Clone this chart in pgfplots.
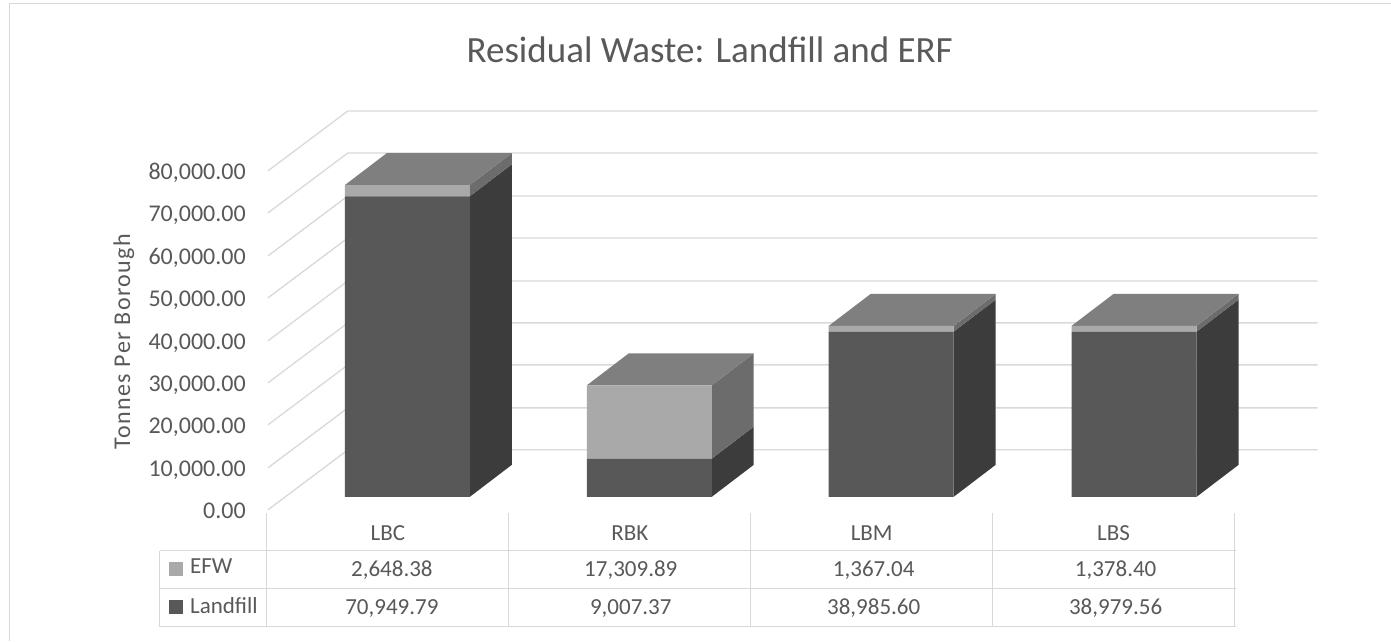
\documentclass[border=0pt]{standalone}
\usepackage{fontspec}
\setmainfont{Carlito}
\newfontfamily\spaced[LetterSpace=6]{Carlito}
\usepackage{pgfplots}
\usepackage{pgfplotstable}
\pgfplotsset{compat=1.18}

\definecolor{txt}{HTML}{595959}
\definecolor{gridc}{HTML}{D9D9D9}
\definecolor{landf}{HTML}{585858}
\definecolor{landside}{HTML}{3C3C3C}
\definecolor{efwf}{HTML}{A9A9A9}
\definecolor{efwside}{HTML}{6C6C6C}
\definecolor{topf}{HTML}{7F7F7F}

% x is the pixel column of the front of the bar, values are tonnes
\pgfplotstableread{
x      landfill  efw
407.5  70949.79  2648.38
649.5  9007.37   17309.89
891.5  38985.60  1367.04
1134.5 38979.56  1378.40
}\wastedata

\pgfplotsset{
  frame/.style={hide axis, scale only axis, width=1391pt, height=641pt,
    xmin=0, xmax=1391, clip=false},
  tonnes/.style={frame, ymin=-33982, ymax=117286},
}
\tikzset{
  grid line/.style={gridc, line width=1.3pt},
  tab line/.style={gridc, line width=1.1pt},
  lab/.style={font=\fontsize{24}{26}\selectfont, text=txt, inner sep=0pt},
  cell/.style={lab, font=\fontsize{23}{26}\selectfont, anchor=base},
  tick/.style={lab, anchor=base east},
}

\begin{document}
\begin{tikzpicture}
% pixel axis: frame, walls, table, text
\begin{axis}[frame, ymin=0, ymax=641, y dir=reverse]
  \fill[white] (axis cs:0,0) rectangle (axis cs:1391,641);
  \addplot[grid line, line width=1pt] coordinates {(9.5,641) (9.5,4) (1391,4)};
  \addplot[grid line] coordinates {(268,510) (348,450) (1318,450)};
  \addplot[grid line] coordinates {(268,468) (348,408) (1318,408)};
  \addplot[grid line] coordinates {(268,425) (348,365) (1318,365)};
  \addplot[grid line] coordinates {(268,383) (348,323) (1318,323)};
  \addplot[grid line] coordinates {(268,341) (348,281) (1318,281)};
  \addplot[grid line] coordinates {(268,298) (348,238) (1318,238)};
  \addplot[grid line] coordinates {(268,256) (348,196) (1318,196)};
  \addplot[grid line] coordinates {(268,213) (348,153) (1318,153)};
  \addplot[grid line] coordinates {(268,171) (348,111) (1318,111)};
  % data table
  \addplot[tab line] coordinates {(160,551) (1236,551)};
  \addplot[tab line] coordinates {(160,589) (1236,589)};
  \addplot[tab line] coordinates {(160,627) (1236,627)};
  \addplot[tab line] coordinates {(160,551) (160,627)};
  \addplot[tab line] coordinates {(267,513) (267,627)};
  \addplot[tab line] coordinates {(509,513) (509,627)};
  \addplot[tab line] coordinates {(751,513) (751,627)};
  \addplot[tab line] coordinates {(993,513) (993,627)};
  \addplot[tab line] coordinates {(1235,513) (1235,627)};
  \fill[efwf] (axis cs:169,562) rectangle (axis cs:183,576);
  \fill[landf] (axis cs:169,600) rectangle (axis cs:183,614);
  \node[lab, font=\fontsize{37}{40}\selectfont] at (axis cs:710,50) {Residual Waste: Landfill and ERF};
  \node[lab, rotate=90, font=\fontsize{24}{26}\spaced] at (axis cs:124,342) {Tonnes Per Borough};
  \node[tick] at (axis cs:246,180) {80,000.00};
  \node[tick] at (axis cs:246,222) {70,000.00};
  \node[tick] at (axis cs:246,265) {60,000.00};
  \node[tick] at (axis cs:246,307) {50,000.00};
  \node[tick] at (axis cs:246,350) {40,000.00};
  \node[tick] at (axis cs:246,392) {30,000.00};
  \node[tick] at (axis cs:246,434) {20,000.00};
  \node[tick] at (axis cs:246,477) {10,000.00};
  \node[tick] at (axis cs:246,519) {0.00};
  \node[cell] at (axis cs:388,541) {LBC};
  \node[cell] at (axis cs:630,541) {RBK};
  \node[cell] at (axis cs:872,541) {LBM};
  \node[cell] at (axis cs:1114,541) {LBS};
  \node[cell, anchor=base west] at (axis cs:190,574) {EFW};
  \node[cell, anchor=base west] at (axis cs:190,614) {Landfill};
  \node[cell] at (axis cs:392,577) {2,648.38};
  \node[cell] at (axis cs:631,577) {17,309.89};
  \node[cell] at (axis cs:874,577) {1,367.04};
  \node[cell] at (axis cs:1116,577) {1,378.40};
  \node[cell] at (axis cs:392,615) {70,949.79};
  \node[cell] at (axis cs:631,615) {9,007.37};
  \node[cell] at (axis cs:874,615) {38,985.60};
  \node[cell] at (axis cs:1116,615) {38,979.56};
\end{axis}

% depth faces of the boxes, in tonnes
\begin{axis}[tonnes]
  % LBC
  \addplot[fill=landside, draw=none] coordinates {(470,0) (512,7550) (512,78500) (470,70950)} --cycle;
  \addplot[fill=efwside, draw=none] coordinates {(470,70950) (512,78500) (512,81148) (470,73598)} --cycle;
  \addplot[fill=topf, draw=none] coordinates {(345,73598) (387,81148) (512,81148) (470,73598)} --cycle;
  % RBK
  \addplot[fill=landside, draw=none] coordinates {(712,0) (754,7550) (754,16557) (712,9007)} --cycle;
  \addplot[fill=efwside, draw=none] coordinates {(712,9007) (754,16557) (754,33867) (712,26317)} --cycle;
  \addplot[fill=topf, draw=none] coordinates {(587,26317) (629,33867) (754,33867) (712,26317)} --cycle;
  % LBM
  \addplot[fill=landside, draw=none] coordinates {(954,0) (996,7550) (996,46536) (954,38986)} --cycle;
  \addplot[fill=efwside, draw=none] coordinates {(954,38986) (996,46536) (996,47903) (954,40353)} --cycle;
  \addplot[fill=topf, draw=none] coordinates {(829,40353) (871,47903) (996,47903) (954,40353)} --cycle;
  % LBS
  \addplot[fill=landside, draw=none] coordinates {(1197,0) (1239,7550) (1239,46530) (1197,38980)} --cycle;
  \addplot[fill=efwside, draw=none] coordinates {(1197,38980) (1239,46530) (1239,47908) (1197,40358)} --cycle;
  \addplot[fill=topf, draw=none] coordinates {(1072,40358) (1114,47908) (1239,47908) (1197,40358)} --cycle;
\end{axis}

% front faces
\begin{axis}[tonnes, ybar stacked, bar width=125pt]
  \addplot[fill=landf, draw=none] table[x=x, y=landfill] {\wastedata};
  \addplot[fill=efwf, draw=none] table[x=x, y=efw] {\wastedata};
\end{axis}
\end{tikzpicture}
\end{document}
